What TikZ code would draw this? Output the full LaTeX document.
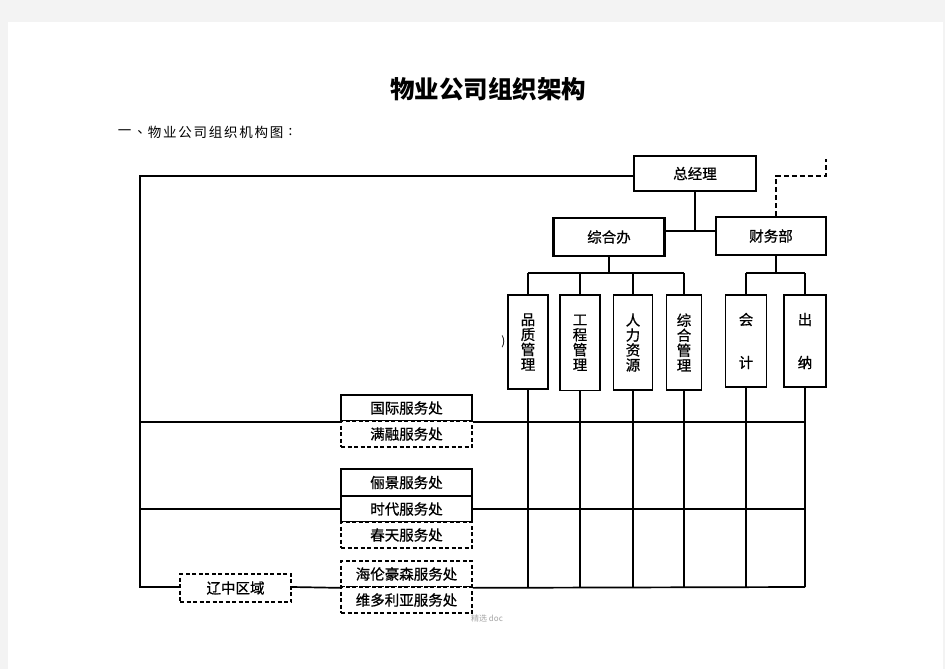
\documentclass[tikz,border=0pt]{standalone}
\usepackage{fontspec}
\setmainfont{Noto Sans CJK SC}
\newfontfamily\boxfont{Noto Sans CJK SC}[FakeBold=0.8]
\definecolor{bggray}{HTML}{F3F3F3}
\begin{document}
\begin{tikzpicture}[x=1pt,y=-1pt,
  ln/.style={line width=1.7pt},
  dln/.style={line width=1.7pt, dash pattern=on 5pt off 3pt},
  box/.style={draw, fill=white, inner sep=0pt, line width=1.7pt,
    font=\boxfont\fontsize{14.5}{15}\selectfont},
  dbox/.style={box, dash pattern=on 4pt off 2.5pt},
  vbox/.style={box, align=center},
  sbox/.style={box, minimum width=131pt},
  sdbox/.style={dbox, minimum width=131pt},
  sub/.style={inner sep=0pt, font=\fontsize{13.5}{13.5}\selectfont}]
\fill[bggray] (0,0) rectangle (945,669);
\fill[white] (8,22) rectangle (943,669);
\useasboundingbox (0,0) rectangle (945,669);

% titles
\node[inner sep=0pt, font=\fontsize{24.5}{25}\selectfont\bfseries] (title) at (488.3,89) {物业公司组织架构};
\foreach \c/\xx [count=\i] in {一/124.5,、/144,物/154.5,业/169.8,公/185,司/200.3,组/215.5,织/230.8,机/246,构/261.3,图/276.5,:/290.5}
  \node[sub] (s\i) at (\xx,132.5) {\c};

% top boxes
\node[box, minimum width=122pt, minimum height=35pt] (zjl) at (695,173.5) {总经理};
\node[box, line width=2.1pt, minimum width=111pt, minimum height=38pt] (zhb) at (609,237) {综合办};
\node[box, minimum width=110pt, minimum height=38pt] (cwb) at (771,236) {财务部};

% vertical boxes
\node[vbox, minimum width=40pt, minimum height=94.5pt] (pz) at (528,342) {品\\质\\管\\理};
\node[vbox, minimum width=40pt, minimum height=95.5pt] (gc) at (580,342.7) {工\\程\\管\\理};
\node[vbox, minimum width=39pt, minimum height=95pt] (rl) at (633,342.5) {人\\力\\资\\源};
\node[vbox, minimum width=35pt, minimum height=95pt] (zh) at (684,342.5) {综\\合\\管\\理};
\node[vbox, minimum width=41pt, minimum height=92pt] (kj) at (746,341) {会\\[28pt]计};
\node[vbox, minimum width=42pt, minimum height=92pt] (cn) at (805,341) {出\\[28pt]纳};
\node[inner sep=0pt, font=\fontsize{12}{12}\selectfont] (paren) at (503.5,342) {)};

% service boxes
\node[sbox, minimum height=26pt] (gj) at (406.5,408) {国际服务处};
\node[sdbox, minimum height=26pt] (mr) at (406.5,434) {满融服务处};
\node[sbox, minimum height=27pt] (lj) at (406.5,482.5) {俪景服务处};
\node[sbox, minimum height=26pt] (sd) at (406.5,509) {时代服务处};
\node[sdbox, minimum height=26pt] (ct) at (406.5,535) {春天服务处};
\node[sdbox, minimum height=26pt] (hl) at (406.5,574) {海伦豪森服务处};
\node[sdbox, minimum height=26pt] (wd) at (406.5,600) {维多利亚服务处};
\node[dbox, minimum width=111pt, minimum height=28pt] (lz) at (235.5,588) {辽中区域};

\node[inner sep=0pt, text=black!35, font=\fontsize{8}{8}\selectfont] (wm) at (487,618.5) {精选 doc};

% coordinates
\coordinate (tl) at (140,176);
\coordinate (bl) at (140,587);
\coordinate (bot) at (0,587);
\coordinate (bus1) at (0,273);
\coordinate (mid) at (0,231);
\coordinate (d1) at (776,176);
\coordinate (d2) at (826,176);
\coordinate (d3) at (826,159);

% connectors top
\draw[ln] (zjl.south) -- (zjl.south |- mid);
\draw[ln] (zhb.east |- mid) -- (cwb.west |- mid);
\draw[ln] (zhb.south) -- (zhb.south |- bus1);
\draw[ln] (pz.north |- bus1) -- (zh.north |- bus1);
\foreach \n in {pz,gc,rl,zh} \draw[ln] (\n.north |- bus1) -- (\n.north);
\draw[ln] ([xshift=5pt]cwb.south) -- ([xshift=5pt]cwb.south |- bus1);
\draw[ln] (kj.north |- bus1) -- (cn.north |- bus1);
\foreach \n in {kj,cn} \draw[ln] (\n.north |- bus1) -- (\n.north);
\draw[dln] ([xshift=5pt]cwb.north) -- (d1) -- (d2) -- (d3);

% left frame
\draw[ln] ([yshift=-2.5pt]zjl.west) -- (tl) -- (bl) -- (lz.west |- bl);

% columns below
\foreach \n in {pz,gc,rl,zh,kj,cn} \draw[ln] (\n.south) -- (\n.south |- bot);

% horizontal rows
\draw[ln] (tl |- gj.south) -- (gj.south west);
\draw[ln] (gj.south east) -- (cn.south |- gj.south);
\draw[ln] (tl |- sd.west) -- (sd.west);
\draw[ln] (sd.east) -- (cn.south |- sd.east);
\draw[ln] (lz.east |- bot) -- (hl.south west);
\draw[ln] (hl.south east) -- (cn.south |- bot);
\end{tikzpicture}
\end{document}
